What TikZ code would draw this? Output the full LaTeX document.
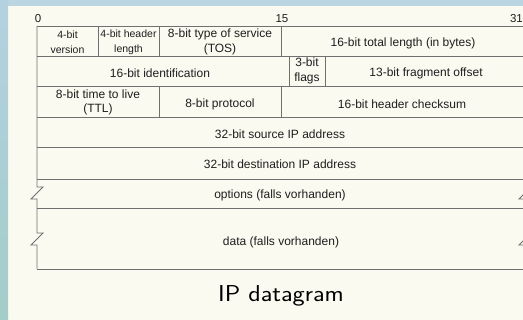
\documentclass[tikz,border=0pt]{standalone}
\usepackage{fontspec}
\usepackage{graphicx}
\setmainfont{Liberation Sans}
\definecolor{pagebg}{HTML}{FBFAF0}
\definecolor{barblue}{HTML}{BBD5E3}
\definecolor{stripA}{HTML}{B4D1E0}
\definecolor{stripB}{HTML}{A3CDC9}
\definecolor{ruleclr}{HTML}{707070}
\definecolor{txt}{HTML}{1E1E1E}
\begin{document}
\begin{tikzpicture}[x=1pt,y=-1pt,
  rule/.style={draw=ruleclr,line width=0.9pt,line join=miter},
  cell/.style={text=txt,align=center,inner sep=0pt,
    font=\fontsize{12}{14.5}\selectfont},
  smallcell/.style={cell,font=\fontsize{10.5}{15}\selectfont},
  bitno/.style={text=txt,inner sep=0pt,font=\fontsize{11.5}{13}\selectfont},
  caption/.style={text=black,inner sep=0pt,anchor=base,
    font=\sffamily\fontsize{23}{26}\selectfont}]

\useasboundingbox (0,0) rectangle (523,320);
\clip (0,0) rectangle (523,320);

% slide background
\fill[pagebg] (0,0) rectangle (523,320);
\fill[barblue] (0,0) rectangle (523,6);
\shade[top color=stripA,bottom color=stripB] (0,0) rectangle (8,320);

% bit numbers
\node[bitno] (b0)  at (38,19)  {0};
\node[bitno] (b15) at (282,19) {15};
\node[bitno,anchor=east] (b31) at (523,19) {31};

% horizontal rules of the header layout
\foreach \yy in {26,56,86,117,147,179,208,269}
  \draw[rule] (37,\yy) -- (525,\yy);

% outer left edge, broken for the variable-length parts
\draw[rule] (37,26) -- (37,187) -- (43,187) -- (31,199) -- (37,199)
  -- (37,233) -- (43,233) -- (31,245) -- (37,245) -- (37,269);
% outer right edge
\draw[rule] (525,26) -- (525,187) -- (531,187) -- (519,199) -- (525,199)
  -- (525,233) -- (531,233) -- (519,245) -- (525,245) -- (525,269);

% inner field separators
\draw[rule] (98,26) -- (98,56);
\draw[rule] (159,26) -- (159,56);
\draw[rule] (281,26) -- (281,56);
\draw[rule] (289,56) -- (289,86);
\draw[rule] (325,56) -- (325,86);
\draw[rule] (159,86) -- (159,117);
\draw[rule] (281,86) -- (281,117);

% row 1
\node[smallcell] (ver) at (67.5,42.5) {4-bit\\version};
\node[smallcell] (ihl) at (128.5,42.5) {4-bit header\\length};
\node[cell] (tos) at (220,42) {8-bit type of service\\(TOS)};
\node[cell] (len) at (403,43.5) {16-bit total length (in bytes)};
% row 2
\node[cell] (ident) at (160,73) {16-bit identification};
\node[cell] (flags) at (307,71) {3-bit\\flags};
\node[cell] (frag) at (426,73) {13-bit fragment offset};
% row 3
\node[cell] (ttl) at (98,102.5) {8-bit time to live\\(TTL)};
\node[cell] (proto) at (220,104) {8-bit protocol};
\node[cell] (csum) at (402,104) {16-bit header checksum};
% rows 4-7
\node[cell] (src) at (280,134.5) {32-bit source IP address};
\node[cell] (dst) at (280,164.5) {32-bit destination IP address};
\node[cell] (opt) at (280,195) {options (falls vorhanden)};
\node[cell] (data) at (281,242) {data (falls vorhanden)};

% caption
\node[caption] (title) at (281,302) {\scalebox{1.12}[1]{IP datagram}};
\end{tikzpicture}
\end{document}
